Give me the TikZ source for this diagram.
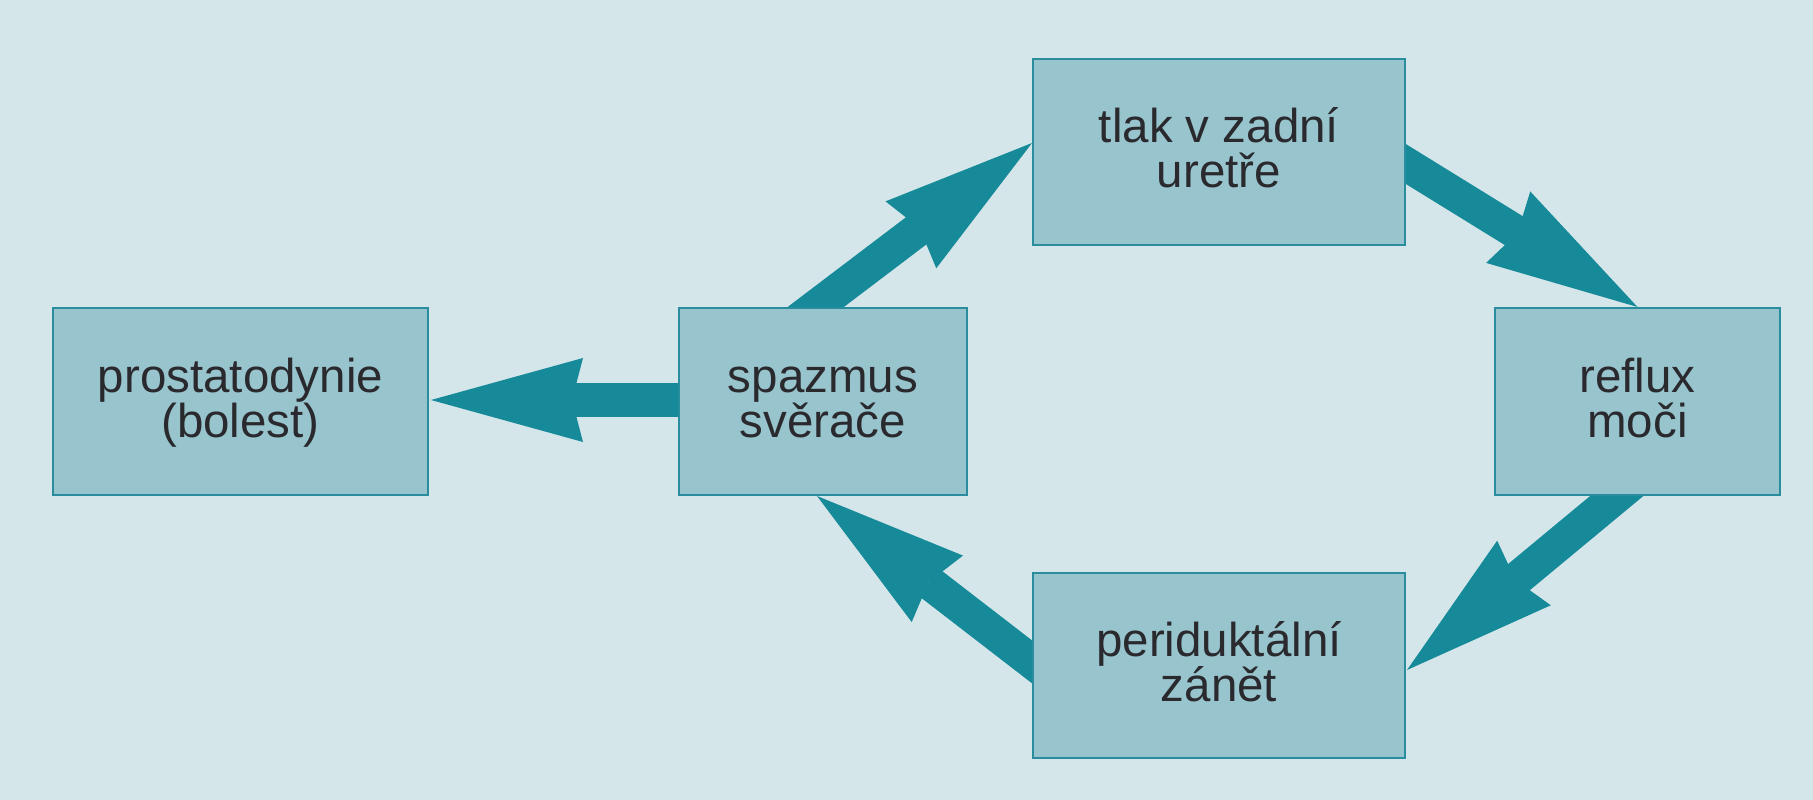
\documentclass[tikz,border=0pt]{standalone}
\usepackage{fontspec}
\setmainfont{Liberation Sans}
\usetikzlibrary{arrows.meta,calc}
\pgfdeclarelayer{bg}
\pgfdeclarelayer{arr}
\pgfsetlayers{bg,arr,main}
\definecolor{bgc}{HTML}{D4E6EA}
\definecolor{boxfill}{HTML}{98C4CE}
\definecolor{boxline}{HTML}{2A8D9D}
\definecolor{arrc}{HTML}{178A9A}
\definecolor{txt}{HTML}{2A2A2E}
\newcommand\myboxfont{\fontsize{47.5}{45}\selectfont\lineskiplimit=-100pt\relax\lineskip=0pt\relax}
\begin{document}
\begin{tikzpicture}[x=1pt,y=-1pt,
  box/.style={draw=boxline, line width=2pt, fill=boxfill, text=txt, align=center,
    font=\myboxfont,
    inner sep=0pt, text height=71pt, text depth=0pt},
  flow/.style={arrc, line width=34pt,
    -{Stealth[length=152pt, width=84pt, inset=11pt, line width=0pt]}}]
\useasboundingbox (0,0) rectangle (1813,800);
\begin{pgfonlayer}{bg}
\fill[bgc] (0,0) rectangle (1813,800);
\end{pgfonlayer}
\node[box, minimum width=375pt, minimum height=187pt] (pro) at (240.5,401.5) {prostatodynie\\(bolest)};
\node[box, minimum width=288pt, minimum height=187pt] (spa) at (823,401.5) {spazmus\\svěrače};
\node[box, minimum width=372pt, minimum height=186pt] (tla) at (1219,152) {tlak v zadní\\uretře};
\node[box, minimum width=285pt, minimum height=187pt] (ref) at (1637.5,401.5) {reflux\\moči};
\node[box, minimum width=372pt, minimum height=185pt] (per) at (1219,665.5) {periduktální\\zánět};
\begin{pgfonlayer}{arr}
\draw[flow] ($(spa.north)+(-31,18)$) -- ($(tla.west)+(0,-9)$);
\draw[flow] ($(tla.east)+(-25.6,-3.7)$) -- (ref.north);
\draw[flow] ($(ref.south)+(2.5,-19.3)$) -- ($(per.east)+(1,4.5)$);
\draw[flow] ($(per.west)+(23.8,14.7)$) -- ($(spa.south)+(-6,0)$);
\draw[flow] ($(spa.west)+(21,-1.5)$) -- ($(pro.east)+(2,-1.5)$);
\end{pgfonlayer}
\end{tikzpicture}
\end{document}
